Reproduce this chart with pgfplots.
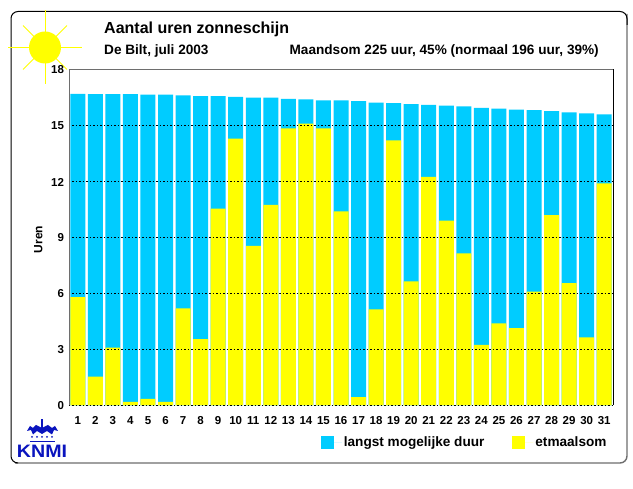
\documentclass[border=0pt]{standalone}
\usepackage{fontspec}
\setmainfont{Liberation Sans}
\usepackage{pgfplots}
\pgfplotsset{compat=1.18}
\definecolor{kblue}{RGB}{0,204,255}
\definecolor{kyellow}{RGB}{255,255,0}
\definecolor{kgray}{RGB}{110,110,110}
\definecolor{knmi}{RGB}{10,20,190}
\begin{document}
\begin{tikzpicture}[x=1pt,y=1pt]
\useasboundingbox (0,0) rectangle (633,-489);
\fill[white] (0,0) rectangle (633,-489);
% frame
\draw[kgray,line width=1.4pt,rounded corners=7pt] (15,-463) -- (627,-463) -- (627,-14) ;
\draw[black,line width=1pt,rounded corners=7pt] (16,-463) -- (11,-463) -- (11,-11.5) -- (627,-11.5) -- (627,-25);
% sun
\foreach \a in {0,90,180,270}{\draw[kyellow,line width=1pt] (45,-47.5) -- ++(\a:37);}
\foreach \a in {45,135,225,315}{\draw[kyellow,line width=1pt] (45,-47.5) -- ++(\a:31);}
\fill[kyellow] (45,-47.5) circle (16);
\begin{axis}[
  at={(69pt,-405.5pt)},anchor=south west,
  scale only axis,width=544pt,height=336pt,
  xmin=0.5,xmax=31.5,ymin=0,ymax=18,
  xtick={1,2,...,31},ytick={0,3,...,18},
  major tick length=0pt,
  axis on top,
  ymajorgrids,
  grid style={black,line width=0.8pt,dash pattern=on 1.5pt off 2pt},
  axis line style={draw=none},
  /pgf/number format/assume math mode=true,
  tick label style={font=\fontsize{11.5}{13}\selectfont\bfseries},
  xticklabel style={yshift=-7.5pt},
  yticklabel style={xshift=-1.5pt,yshift=-0.5pt},
  ylabel={Uren},
  ylabel style={font=\fontsize{12}{14}\selectfont\bfseries,at={(axis description cs:0,0.5)},anchor=south,xshift=-2pt,yshift=23pt},
  legend columns=2,
  legend cell align=left,
  legend style={draw=none,fill=none,at={(rel axis cs:0.463,-0.088)},anchor=north west,
    font=\fontsize{13.6}{15}\selectfont\bfseries,inner sep=0pt,outer sep=0pt,
    /tikz/every even column/.append style={column sep=26pt}},
  legend image code/.code={\fill[#1] (0pt,-6.5pt) rectangle (13pt,6.5pt); \path (0pt,0pt) -- (21pt,0pt);},
]
\addplot[ybar,bar width=15pt,bar shift=0pt,fill=kblue,draw=none] coordinates {
(1,16.7)(2,16.68)(3,16.68)(4,16.68)(5,16.65)(6,16.65)(7,16.62)(8,16.57)(9,16.57)(10,16.53)(11,16.5)(12,16.5)(13,16.43)(14,16.4)(15,16.35)(16,16.35)(17,16.3)(18,16.22)(19,16.2)(20,16.15)(21,16.1)(22,16.07)(23,16.03)(24,15.95)(25,15.9)(26,15.85)(27,15.82)(28,15.77)(29,15.7)(30,15.65)(31,15.6)};
\addlegendentry{langst mogelijke duur}
\addplot[ybar,bar width=15pt,bar shift=0pt,fill=kyellow,draw=none] coordinates {
(1,5.8)(2,1.55)(3,3.1)(4,0.2)(5,0.35)(6,0.2)(7,5.2)(8,3.55)(9,10.55)(10,14.3)(11,8.55)(12,10.75)(13,14.85)(14,15.1)(15,14.85)(16,10.4)(17,0.45)(18,5.15)(19,14.2)(20,6.65)(21,12.25)(22,9.9)(23,8.15)(24,3.25)(25,4.4)(26,4.15)(27,6.1)(28,10.2)(29,6.55)(30,3.65)(31,11.9)};
\addlegendentry{etmaalsom}
\end{axis}
% axis box
\draw[kgray,line width=1pt] (69,-405.5) -- (69,-69.5) -- (613,-69.5);
\draw[black,line width=0.8pt] (613,-69.5) -- (613,-405.5);
% titles
\node[anchor=base west,inner sep=0pt,font=\fontsize{16}{18}\selectfont\bfseries] at (104,-34) {Aantal uren zonneschijn};
\node[anchor=base west,inner sep=0pt,font=\fontsize{13.6}{15}\selectfont\bfseries] at (104,-54.5) {De Bilt, juli 2003};
\node[anchor=base east,inner sep=0pt,font=\fontsize{13.6}{15}\selectfont\bfseries] at (599,-54.5) {Maandsom 225 uur, 45\% (normaal 196 uur, 39\%)};
% KNMI logo
\node[anchor=base,inner sep=0pt,font=\fontsize{18}{20}\selectfont\bfseries,text=knmi,xscale=1.09] at (42,-458) {KNMI};
\fill[knmi] (30,-441) rectangle (55,-442.5);
\foreach \x in {32,37,42,47,52}{\fill[knmi] (\x,-437) circle (1);}
\fill[knmi] (27,-431) -- (30,-426) -- (33,-428) -- (36,-425) -- (42,-428) -- (48,-425) -- (52,-428) -- (55,-426) -- (58,-431) -- (54,-430) -- (52,-434.5) -- (47,-431) -- (42,-434) -- (37,-431) -- (33,-434.5) -- (31,-430) -- cycle;
\fill[knmi] (41.3,-428) rectangle (42.7,-419);
\end{tikzpicture}
\end{document}
